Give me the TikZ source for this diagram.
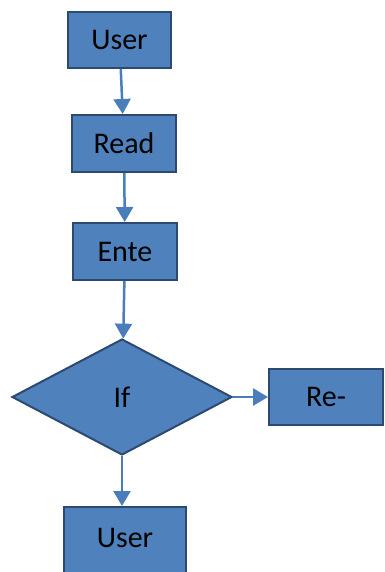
\documentclass[tikz,border=0pt]{standalone}
\usepackage{fontspec}
\setmainfont{Carlito}
\usetikzlibrary{shapes.geometric, arrows.meta, positioning}
\definecolor{boxblue}{HTML}{4F81BD}
\definecolor{boxline}{HTML}{2C4A70}
\definecolor{linkblue}{HTML}{4A7EBB}
\tikzset{
    block/.style={
        rectangle,
        line width=2pt,
        draw=boxline,
        fill=boxblue,
        minimum width=104pt,
        minimum height=57pt,
        inner sep=0pt,
        font=\fontsize{30}{32}\selectfont,
    },
    decision/.style={
        diamond,
        line width=2pt,
        draw=boxline,
        fill=boxblue,
        minimum width=220pt,
        minimum height=116pt,
        inner sep=0pt,
        font=\fontsize{30}{32}\selectfont,
    },
    link/.style={
        ->,
        draw=linkblue,
        line width=2.5pt,
    },
}
\begin{document}
\begin{tikzpicture}[x=1pt, y=-1pt, >={Triangle[width=17pt,length=15pt]}]
      \useasboundingbox (0,0) rectangle (384,572);
      \clip (0,0) rectangle (384,572);

      \node [block, minimum width=103pt, minimum height=56pt] (User) at (119.5,40) {User};
      \node [block] (Read) [below=45pt of User, xshift=4.5pt] {Read};
      \node [block] (Ente) [below=49pt of Read, xshift=1pt] {Ente};
      \node [decision] (If) [below=57pt of Ente, xshift=-3pt] {If};
      \node [block, minimum width=114pt, minimum height=56pt] (Re) [right=35pt of If] {Re-};
      \node [block, minimum width=122pt, text height=40pt, text depth=30pt] (UserEnd) [below=50pt of If, xshift=3pt] {User};

      \draw [link] (User) -- (Read);
      \draw [link] (Read) -- (Ente);
      \draw [link] (Ente) -- (If);
      \draw [link] (If) -- (Re);
      \draw [link] (If.south) -- (UserEnd.north -| If.south);
    \end{tikzpicture}
\end{document}
